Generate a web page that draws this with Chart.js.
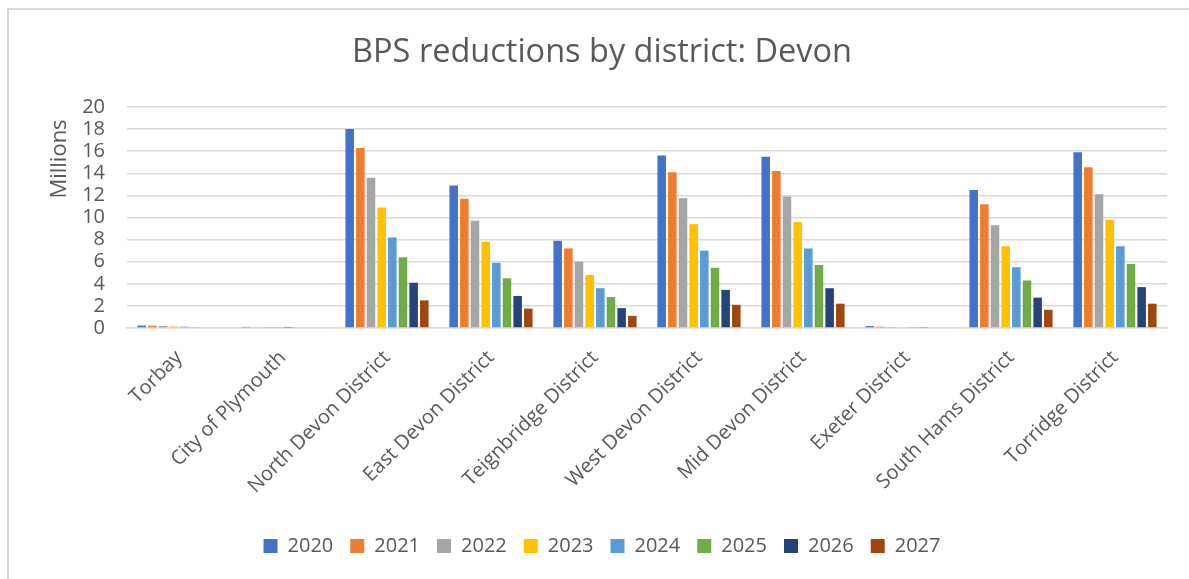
<!DOCTYPE html>
<html>
<head>
<meta charset="utf-8">
<script src="https://cdn.jsdelivr.net/npm/chart.js@4.4.1/dist/chart.umd.min.js"></script>
<style>
  html, body { margin: 0; padding: 0; background: #fff; }
  #wrap { position: relative; width: 1189px; height: 579px; }
  #frame { position: absolute; left: 7px; top: 8px; right: 0; bottom: 0;
           border-left: 2px solid #d9d9d9; border-top: 2px solid #d9d9d9; }
  canvas { position: absolute; left: 0; top: 0; }
</style>
</head>
<body>
<div id="wrap">
  <div id="frame"></div>
  <canvas id="chart" width="1189" height="579"></canvas>
</div>
<script>
/* ===============================
   DATA (millions)
================================*/
const districts = [
    "Torbay", "City of Plymouth", "North Devon District", "East Devon District",
    "Teignbridge District", "West Devon District", "Mid Devon District",
    "Exeter District", "South Hams District", "Torridge District"
];
const years = ["2020", "2021", "2022", "2023", "2024", "2025", "2026", "2027"];

// one array per year, one value per district
const y2020 = [0.22, 0.10, 18.0, 12.9, 7.9, 15.6, 15.5, 0.17, 12.5, 15.9];
const y2021 = [0.20, 0.07, 16.3, 11.7, 7.2, 14.1, 14.2, 0.12, 11.2, 14.55];
const y2022 = [0.18, 0.05, 13.6, 9.7, 6.0, 11.75, 11.9, 0.09, 9.3, 12.1];
const y2023 = [0.14, 0.02, 10.9, 7.8, 4.8, 9.4, 9.6, 0.07, 7.4, 9.8];
const y2024 = [0.12, 0.01, 8.2, 5.9, 3.6, 7.0, 7.2, 0.05, 5.5, 7.4];
const y2025 = [0.08, 0.0, 6.4, 4.5, 2.8, 5.45, 5.7, 0.03, 4.3, 5.8];
const y2026 = [0.0, 0.0, 4.1, 2.9, 1.8, 3.45, 3.6, 0.0, 2.75, 3.7];
const y2027 = [0.0, 0.0, 2.5, 1.75, 1.1, 2.1, 2.2, 0.0, 1.65, 2.2];

const seriesValues = [y2020, y2021, y2022, y2023, y2024, y2025, y2026, y2027];
const seriesColors = ["#4472C4", "#ED7D31", "#A5A5A5", "#FFC000",
                      "#5B9BD5", "#70AD47", "#264478", "#9E480E"];

const yTicks = [0, 2, 4, 6, 8, 10, 12, 14, 16, 18, 20];
const unitText = "Millions";
const titleText = "BPS reductions by district: Devon";

/* ===============================
   CHART
================================*/
const textColor = "#595959";
const gridColor = "#d9d9d9";
const fontFamily = "'Open Sans', 'Liberation Sans', sans-serif";

// Excel puts the display-unit label near the top of the value axis
const unitLabel = {
    id: "unitLabel",
    afterDraw(chart) {
        const { ctx, chartArea } = chart;
        ctx.save();
        ctx.translate(60, chartArea.top + 52);
        ctx.rotate(-Math.PI / 2);
        ctx.font = "22px " + fontFamily;
        ctx.fillStyle = textColor;
        ctx.textAlign = "center";
        ctx.textBaseline = "middle";
        ctx.fillText(unitText, 0, 0);
        ctx.restore();
    }
};

new Chart(document.getElementById("chart"), {
    type: "bar",
    data: {
        labels: districts,
        datasets: years.map((yr, i) => ({
            label: yr,
            data: seriesValues[i],
            backgroundColor: seriesColors[i],
            borderWidth: 0,
            barPercentage: 0.8,
            categoryPercentage: 0.82
        }))
    },
    options: {
        responsive: false,
        animation: false,
        devicePixelRatio: 1,
        layout: { padding: { top: 10, left: 37, right: 22, bottom: 13 } },
        plugins: {
            title: {
                display: true,
                text: titleText,
                color: textColor,
                font: { family: fontFamily, size: 32.5, weight: "normal" },
                padding: { top: 23, bottom: 35 }
            },
            legend: {
                position: "bottom",
                labels: {
                    color: textColor,
                    font: { family: fontFamily, size: 20 },
                    boxWidth: 14,
                    boxHeight: 14,
                    padding: 17
                }
            },
            tooltip: { enabled: false }
        },
        scales: {
            x: {
                grid: { display: false },
                border: { display: true, color: gridColor, width: 1.5 },
                ticks: {
                    color: textColor,
                    font: { family: fontFamily, size: 20 },
                    minRotation: 45,
                    maxRotation: 45,
                    autoSkip: false,
                    padding: 10
                },
                afterFit(scale) { scale.height = 191; }
            },
            y: {
                min: 0,
                max: 20,
                afterBuildTicks(scale) { scale.ticks = yTicks.map(v => ({ value: v })); },
                grid: { color: gridColor, lineWidth: 1.5, drawTicks: false },
                border: { display: false },
                ticks: {
                    color: textColor,
                    font: { family: fontFamily, size: 20 },
                    padding: 22,
                    autoSkip: false
                },
                afterFit(scale) { scale.width = 90; }
            }
        }
    },
    plugins: [unitLabel]
});
</script>
</body>
</html>
